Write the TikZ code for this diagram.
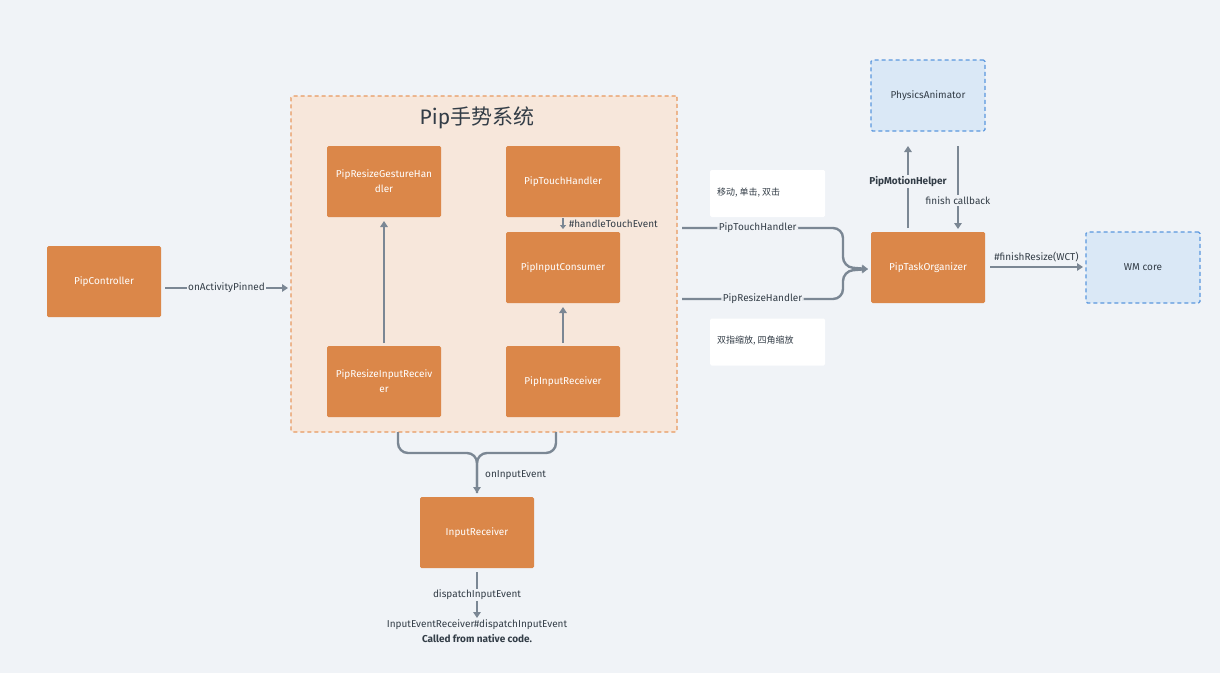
\documentclass[tikz,border=0pt]{standalone}
\usepackage{fontspec}
\setmainfont{Fira Sans}
\newfontfamily\cjk{Noto Sans CJK SC}
\usetikzlibrary{arrows.meta}
\definecolor{bg}{HTML}{F0F3F7}
\definecolor{orangebox}{HTML}{DB8749}
\definecolor{groupfill}{HTML}{F7E7DB}
\definecolor{groupline}{HTML}{E8995F}
\definecolor{bluefill}{HTML}{DAE8F6}
\definecolor{blueline}{HTML}{5A97DE}
\definecolor{linec}{HTML}{7B8794}
\definecolor{textc}{HTML}{333D47}
\tikzset{
  obox/.style={rectangle, fill=orangebox, text=white, minimum width=114pt, minimum height=71pt, inner sep=2pt, rounded corners=1.5pt, align=center, font=\fontsize{10}{15}\selectfont},
  bbox/.style={rectangle, fill=bluefill, draw=blueline, dash pattern=on 4pt off 3pt, line width=1.2pt, text=textc, minimum width=114pt, minimum height=71pt, inner sep=2pt, rounded corners=1.5pt, align=center, font=\fontsize{10}{13}\selectfont},
  wbox/.style={rectangle, fill=white, minimum width=115pt, minimum height=47pt, rounded corners=1.5pt},
  lbl/.style={fill=bg, inner sep=1.5pt, text=textc, font=\fontsize{10}{12}\selectfont},
  plain/.style={inner sep=1pt, text=textc, font=\fontsize{10}{12}\selectfont},
  conn/.style={draw=linec, line width=2.4pt, -{Triangle[length=6pt,width=7.5pt]}},
  connn/.style={draw=linec, line width=2.4pt},
}
\begin{document}
\begin{tikzpicture}[x=1pt,y=-1pt]
\useasboundingbox (0,0) rectangle (1220,673);
\fill[bg] (0,0) rectangle (1220,673);
% group
\node[draw=groupline, dash pattern=on 4pt off 3pt, line width=1.2pt, fill=groupfill, rounded corners=1.5pt, minimum width=386pt, minimum height=336pt, inner sep=0pt] (grp) at (484,264) {};
\node[text=textc, font=\fontsize{21}{25}\selectfont] (title) at (477,118) {Pip{\cjk 手势系统}};
% boxes
\node[obox] (pc) at (104,281.5) {PipController};
\node[obox] (prgh) at (384,181.5) {PipResizeGestureHan\\dler};
\node[obox] (pth) at (563,181.5) {PipTouchHandler};
\node[obox] (pic) at (563,267.5) {PipInputConsumer};
\node[obox] (prir) at (384,381.5) {PipResizeInputReceiv\\er};
\node[obox] (pir) at (563,381.5) {PipInputReceiver};
\node[obox] (ir) at (477,532.5) {InputReceiver};
\node[obox] (pto) at (928,267.5) {PipTaskOrganizer};
\node[bbox] (pa) at (928,95.5) {PhysicsAnimator};
\node[bbox] (wm) at (1143,267.5) {WM core};
\node[wbox] (w1) at (767.5,193.5) {};
\node[plain, anchor=west, font=\cjk\fontsize{9}{11}\selectfont] (w1t) at (716,193) {移动, 单击, 双击};
\node[wbox] (w2) at (767.5,342) {};
\node[plain, anchor=west, font=\cjk\fontsize{9}{11}\selectfont] (w2t) at (716,341) {双指缩放, 四角缩放};
% coordinates
\coordinate (a1s) at (165,288);
\coordinate (a1e) at (288,288);
\coordinate (ths) at (682,228);
\coordinate (rhs) at (682,299);
\coordinate (mergeE) at (868,269);
\coordinate (b1) at (398,432);
\coordinate (b2) at (556,432);
\coordinate (bj) at (477,453);
\coordinate (ire) at (477,493);
\coordinate (ds) at (477,572);
\coordinate (de) at (477,618);
\coordinate (mhs) at (908,228);
\coordinate (mhe) at (908,146);
\coordinate (fcs) at (958,146);
\coordinate (fce) at (958,229);
\coordinate (r1) at (384,343);
\coordinate (r1e) at (384,221);
\coordinate (r2) at (563,343);
\coordinate (r2e) at (563,307);
\coordinate (h1) at (563,218);
\coordinate (h1e) at (563,229);
% connectors
\draw[conn] (a1s) -- node[lbl] {onActivityPinned} (a1e);
\draw[conn] (r1) -- (r1e);
\draw[conn] (r2) -- (r2e);
\draw[conn, line width=1.8pt, -{Triangle[length=4pt,width=6pt]}] (h1) -- (h1e);
\node[plain, anchor=west] (hte) at (568,224) {\#handleTouchEvent};
\draw[conn, rounded corners=10pt] (ths) -- node[lbl, pos=0.47] {PipTouchHandler} (843,228) -- (843,267) -- (mergeE);
\draw[conn, rounded corners=10pt] (rhs) -- node[lbl, pos=0.5] {PipResizeHandler} (843,299) -- (843,271) -- (mergeE);
\draw[conn] (mhs) -- node[lbl, pos=0.57, font=\bfseries\fontsize{10}{12}\selectfont] {PipMotionHelper} (mhe);
\draw[conn] (fcs) -- node[lbl, pos=0.66] {finish callback} (fce);
\draw[conn] (990,267) -- node[plain, above=3pt] {\#finishResize(WCT)} (1083,267);
\draw[connn, rounded corners=10pt] (b1) -- (398,453) -- (bj) -- (ire);
\draw[conn, rounded corners=10pt] (b2) -- (556,453) -- (bj) -- (ire);
\node[plain, anchor=west] (oie) at (484,475) {onInputEvent};
\draw[conn] (ds) -- node[lbl] {dispatchInputEvent} (de);
\node[plain] (ier) at (477,625) {InputEventReceiver\#dispatchInputEvent};
\node[plain, font=\bfseries\fontsize{10}{12}\selectfont] (cfn) at (477,639) {Called from native code.};
\end{tikzpicture}
\end{document}
